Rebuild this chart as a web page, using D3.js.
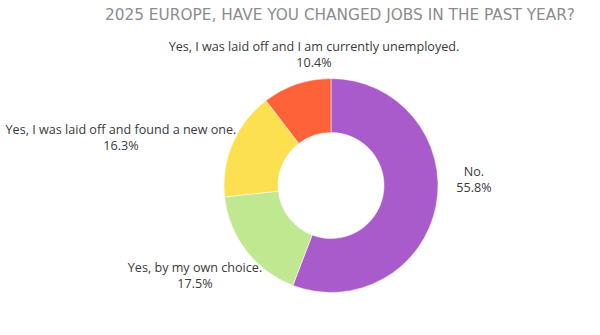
<!DOCTYPE html>
<html>
<head>
<meta charset="utf-8">
<script src="https://cdn.jsdelivr.net/npm/d3@7"></script>
<style>
  html, body { margin: 0; padding: 0; background: #fff; }
  svg { display: block; }
</style>
</head>
<body>
<svg id="chart" width="600" height="335"></svg>
<script>
const title = "2025 EUROPE, HAVE YOU CHANGED JOBS IN THE PAST YEAR?";
const categories = [
  "No.",
  "Yes, by my own choice.",
  "Yes, I was laid off and found a new one.",
  "Yes, I was laid off and I am currently unemployed."
];
const values = [55.8, 17.5, 16.3, 10.4];
const colors = ["#a95bcc", "#c0e890", "#fde04f", "#fe6238"];

const svg = d3.select("#chart");
const cx = 331, cy = 185.5, rOuter = 107, rInner = 53;

svg.append("text")
  .attr("x", 105).attr("y", 20)
  .attr("textLength", 470).attr("lengthAdjust", "spacingAndGlyphs")
  .attr("font-family", "'DejaVu Sans', sans-serif")
  .attr("font-size", 15)
  .attr("fill", "#8c8c8c")
  .text(title);

const data = categories.map((c, i) => ({ cat: c, value: values[i], color: colors[i] }));
const pie = d3.pie().sort(null).value(d => d.value);
const arc = d3.arc().innerRadius(rInner).outerRadius(rOuter);
const arcs = pie(data);

const g = svg.append("g").attr("transform", `translate(${cx},${cy})`);
g.selectAll("path").data(arcs).join("path")
  .attr("d", arc)
  .attr("fill", d => d.data.color)
  .attr("stroke", "#fff")
  .attr("stroke-width", 0.5);

const labelPos = [
  { x: 474, y: 176 },
  { x: 195, y: 272 },
  { x: 121, y: 134 },
  { x: 314, y: 51 }
];
const fmt = d3.format(".1f");
arcs.forEach((a, i) => {
  const t = svg.append("text")
    .attr("x", labelPos[i].x).attr("y", labelPos[i].y)
    .attr("text-anchor", "middle")
    .attr("font-family", "'Open Sans', sans-serif")
    .attr("font-size", 12.6)
    .attr("fill", "#3a3a3a");
  t.append("tspan").attr("x", labelPos[i].x).text(a.data.cat);
  t.append("tspan").attr("x", labelPos[i].x).attr("dy", 16).text(fmt(a.data.value) + "%");
});
</script>
</body>
</html>
